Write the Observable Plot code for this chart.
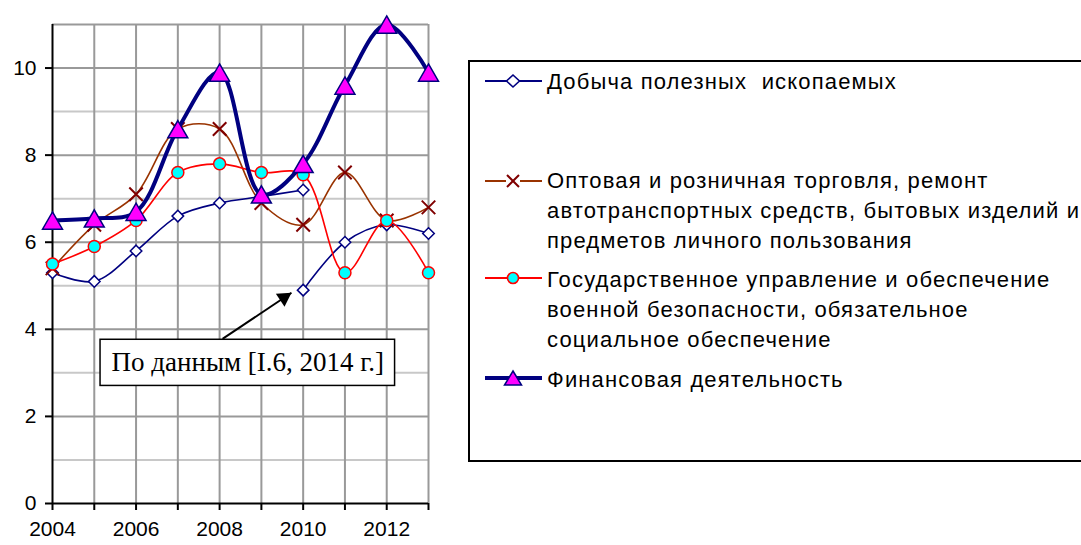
<!DOCTYPE html>
<html>
<head>
<meta charset="utf-8">
<script src="https://cdn.jsdelivr.net/npm/d3@7"></script>
<script src="https://cdn.jsdelivr.net/npm/@observablehq/plot@0.6"></script>
<style>
  html, body { margin: 0; padding: 0; background: #fff; }
  #wrap { position: relative; width: 1081px; height: 545px; overflow: hidden; font-family: "Liberation Sans", Arial, sans-serif; }
  #chart { position: absolute; left: 0; top: 0; }
  #legend { position: absolute; left: 468px; top: 60px; width: 640px; height: 398px; border: 2px solid #000; background: #fff; }
  .entry { position: absolute; left: 0; top: 0; }
  .entry svg { position: absolute; left: 12px; }
  .entry .txt { position: absolute; left: 77px; font-size: 22px; letter-spacing: 1.15px; line-height: 30px; white-space: nowrap; color: #000; }
</style>
</head>
<body>
<div id="wrap">
  <div id="chart"></div>
  <div id="legend"></div>
</div>
<script>
// ---- data ----
const years = [2004, 2005, 2006, 2007, 2008, 2009, 2010, 2011, 2012, 2013];
const yTicks = [0, 2, 4, 6, 8, 10];
const xLabelYears = [2004, 2006, 2008, 2010, 2012];

// Добыча полезных ископаемых (two data sources, break at 2010)
const miningYearsA = [2004, 2005, 2006, 2007, 2008, 2009, 2010];
const miningA = [5.3, 5.1, 5.8, 6.6, 6.9, 7.05, 7.2];
const miningYearsB = [2010, 2011, 2012, 2013];
const miningB = [4.9, 6.0, 6.4, 6.2];
// Оптовая и розничная торговля ...
const trade = [5.4, 6.4, 7.1, 8.6, 8.6, 6.9, 6.4, 7.6, 6.5, 6.8];
// Государственное управление ...
const gov = [5.5, 5.9, 6.5, 7.6, 7.8, 7.6, 7.55, 5.3, 6.5, 5.3];
// Финансовая деятельность
const finance = [6.5, 6.55, 6.7, 8.6, 9.9, 7.1, 7.8, 9.6, 11.0, 9.9];

const seriesNames = [
  "Добыча полезных&nbsp; ископаемых",
  "Оптовая и розничная торговля, ремонт<br>автотранспортных средств, бытовых изделий и<br>предметов личного пользования",
  "Государственное управление и обеспечение<br>военной безопасности, обязательное<br>социальное обеспечение",
  "Финансовая деятельность"
];

// annotation (data coordinates)
const noteText = "По данным [I.6, 2014 г.]";
const noteBox = [{x1: 2005.15, x2: 2012.2, y1: 2.7, y2: 3.76}];
const noteArrow = [{x1: 2008.07, y1: 3.78, x2: 2009.72, y2: 4.84}];

// ---- build tables ----
const mining = [
  ...miningYearsA.map((y, i) => ({year: y, v: miningA[i], seg: "a"})),
  ...miningYearsB.map((y, i) => ({year: y, v: miningB[i], seg: "b"}))
];
const tradeT = years.map((y, i) => ({year: y, v: trade[i]}));
const govT = years.map((y, i) => ({year: y, v: gov[i]}));
const finT = years.map((y, i) => ({year: y, v: finance[i]}));

const navy = "#000080", brown = "#993300", darkred = "#800000", red = "#ff0000", cyan = "#00ffff", magenta = "#ff00ff";
const curve = "catmull-rom";

const plot = Plot.plot({
  width: 450,
  height: 545,
  marginLeft: 52,
  marginRight: 22,
  marginTop: 24,
  marginBottom: 42,
  style: {fontFamily: "'Liberation Sans', Arial, sans-serif", fontSize: "21px", color: "#000", background: "#fff", overflow: "visible"},
  x: {domain: [2004, 2013], axis: null},
  y: {domain: [0, 11], axis: null},
  marks: [
    Plot.ruleY([1, 3, 5, 7, 9], {stroke: "#c8c8c8", strokeWidth: 2}),
    Plot.ruleY([2, 4, 6, 8, 10, 11], {stroke: "#999", strokeWidth: 2}),
    Plot.ruleX(years.slice(1), {stroke: "#999", strokeWidth: 2}),
    Plot.ruleX([2004], {stroke: "#000", strokeWidth: 2}),
    Plot.ruleY([0], {stroke: "#000", strokeWidth: 2}),
    Plot.axisY({ticks: yTicks, tickSize: 7, tickPadding: 9, tickFormat: d => String(d), fontSize: 21, strokeWidth: 2, label: null}),
    Plot.axisX({ticks: years, tickSize: 7, tickFormat: () => "", strokeWidth: 2, label: null}),
    Plot.axisX({ticks: xLabelYears, tickSize: 0, tickPadding: 18, tickFormat: d => String(d), fontSize: 21, label: null}),
    // series: mining
    Plot.line(mining, {x: "year", y: "v", z: "seg", stroke: navy, strokeWidth: 1.6, curve}),
    Plot.dot(mining, {x: "year", y: "v", symbol: "diamond2", r: 5.2, fill: "#fff", stroke: navy, strokeWidth: 1.5}),
    // trade
    Plot.line(tradeT, {x: "year", y: "v", stroke: brown, strokeWidth: 1.6, curve}),
    Plot.dot(tradeT, {x: "year", y: "v", symbol: "times", r: 6.2, stroke: darkred, strokeWidth: 2}),
    // gov
    Plot.line(govT, {x: "year", y: "v", stroke: red, strokeWidth: 1.6, curve}),
    Plot.dot(govT, {x: "year", y: "v", symbol: "circle", r: 6, fill: cyan, stroke: red, strokeWidth: 1.5}),
    // finance
    Plot.line(finT, {x: "year", y: "v", stroke: navy, strokeWidth: 4, curve}),
    Plot.dot(finT, {x: "year", y: "v", symbol: "triangle", r: 7.4, dy: 3, fill: magenta, stroke: navy, strokeWidth: 1.5}),
    // annotation
    Plot.rect(noteBox, {x1: "x1", x2: "x2", y1: "y1", y2: "y2", fill: "#fff", stroke: "#000", strokeWidth: 1.5}),
    Plot.text(noteBox, {x: d => (d.x1 + d.x2) / 2, y: d => (d.y1 + d.y2) / 2, text: () => noteText, fontFamily: "'Liberation Serif', 'Times New Roman', serif", fontSize: 27, fill: "#000"}),
    Plot.link(noteArrow, {x1: "x1", y1: "y1", x2: "x2", y2: "y2", stroke: "#000", strokeWidth: 2}),
    Plot.dot(noteArrow, {x: "x2", y: "y2", symbol: "triangle", r: 5.8, rotate: 56.3, dx: -7.5, dy: 5, fill: "#000", stroke: "none"})
  ]
});
document.getElementById("chart").appendChild(plot);

// ---- legend ----
const symbols = [
  `<line x1="3" y1="10" x2="60" y2="10" stroke="${navy}" stroke-width="1.8"/><polygon points="31,4 37.5,10 31,16 24.5,10" fill="#fff" stroke="${navy}" stroke-width="1.6"/>`,
  `<line x1="3" y1="10" x2="60" y2="10" stroke="${brown}" stroke-width="1.8"/><rect x="24" y="3" width="14" height="14" fill="#fff"/><path d="M25,4L37,16M25,16L37,4" stroke="${darkred}" stroke-width="2"/>`,
  `<line x1="3" y1="10" x2="60" y2="10" stroke="${red}" stroke-width="1.8"/><circle cx="31" cy="10" r="5.5" fill="${cyan}" stroke="${red}" stroke-width="1.6"/>`,
  `<line x1="3" y1="10" x2="60" y2="10" stroke="${navy}" stroke-width="4"/><polygon points="31,3 39.5,17 22.5,17" fill="${magenta}" stroke="${navy}" stroke-width="1.5"/>`
];
const symY = [19, 119, 216, 316];
const txtTop = [4.5, 103.5, 202.5, 302.5];
const legend = document.getElementById("legend");
seriesNames.forEach((name, i) => {
  const e = document.createElement("div");
  e.className = "entry";
  e.innerHTML = `<svg width="66" height="20" style="top:${symY[i] - 10}px">${symbols[i]}</svg><div class="txt" style="top:${txtTop[i]}px">${name}</div>`;
  legend.appendChild(e);
});
</script>
</body>
</html>
